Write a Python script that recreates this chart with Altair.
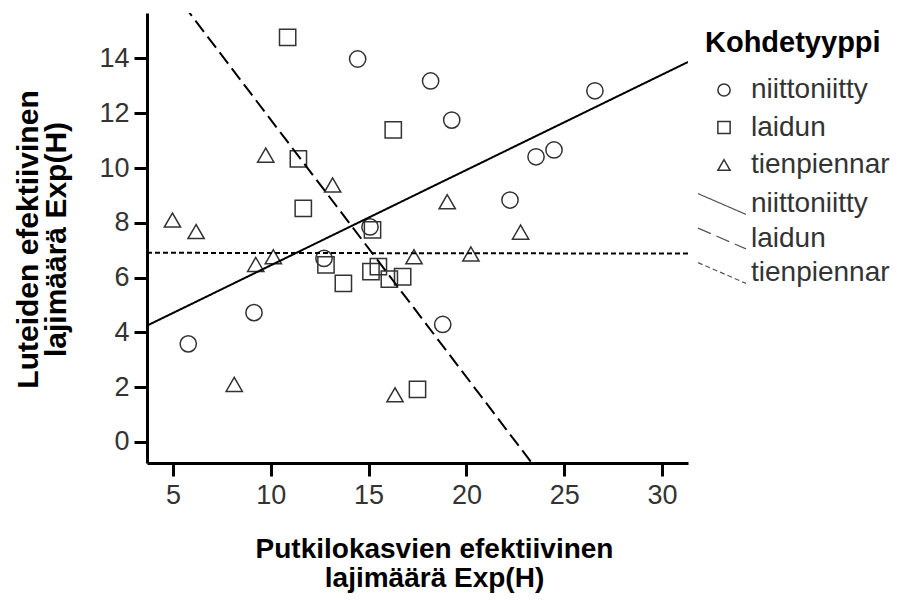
import altair as alt
import pandas as pd

# ---- data ----
types = ["niittoniitty", "laidun", "tienpiennar"]
shapes = ["circle", "square", "triangle-up"]

niitto_x = [14.44, 18.17, 19.25, 26.57, 24.48, 23.56, 22.23, 15.07, 12.72, 9.14, 5.78, 18.79]
niitto_y = [13.98, 13.18, 11.75, 12.82, 10.66, 10.41, 8.83, 7.85, 6.70, 4.72, 3.58, 4.29]

laidun_x = [10.86, 16.26, 11.41, 11.66, 15.20, 12.82, 13.71, 15.12, 15.50, 16.06, 16.74, 17.50]
laidun_y = [14.77, 11.39, 10.33, 8.53, 7.74, 6.46, 5.79, 6.22, 6.40, 5.94, 6.03, 1.92]

tien_x = [9.74, 13.16, 4.97, 6.18, 9.23, 10.13, 17.32, 20.23, 19.02, 22.77, 8.13, 16.35]
tien_y = [10.47, 9.38, 8.10, 7.68, 6.48, 6.76, 6.76, 6.86, 8.77, 7.66, 2.10, 1.72]

x_domain = [3.67, 31.33]
y_domain = [-0.77, 15.66]
x_ticks = [5, 10, 15, 20, 25, 30]
y_ticks = [0, 2, 4, 6, 8, 10, 12, 14]

x_title = ["Putkilokasvien efektiivinen", "lajimäärä Exp(H)"]
y_title = ["Luteiden efektiivinen", "lajimäärä Exp(H)"]
legend_title = "Kohdetyyppi"

rows = []
for t, xs, ys in zip(types, [niitto_x, laidun_x, tien_x], [niitto_y, laidun_y, tien_y]):
    for a, b in zip(xs, ys):
        rows.append({"Kohdetyyppi": t, "x": a, "y": b})
df = pd.DataFrame(rows)

# line-legend keys get a one-letter prefix so that the two legends stay separate
line_types = ["L" + t for t in types]

FONT = "Liberation Sans"

x_scale = alt.Scale(domain=x_domain, nice=False, zero=False)
y_scale = alt.Scale(domain=y_domain, nice=False, zero=False)

x_enc = alt.X(
    "x:Q", scale=x_scale,
    axis=alt.Axis(values=x_ticks, title=x_title, titleX=287, titleY=72,
                  titleBaseline="top", titleAlign="center", titleLineHeight=29,
                  titleFontSize=28, labelPadding=6),
)
y_enc = alt.Y(
    "y:Q", scale=y_scale,
    axis=alt.Axis(values=y_ticks, title=y_title, titleX=-134, titleY=226,
                  titleAngle=270, titleBaseline="top", titleAlign="center",
                  titleLineHeight=28, labelPadding=5),
)

points = alt.Chart(df).mark_point(
    filled=False, strokeWidth=1.5, color="#333333", opacity=1, size=265
).encode(
    x=x_enc,
    y=y_enc,
    shape=alt.Shape(
        "Kohdetyyppi:N",
        scale=alt.Scale(domain=types, range=shapes),
        legend=alt.Legend(
            title=legend_title, orient="none", legendX=558, legendY=16,
            titleFont=FONT, titleFontSize=29, titleFontWeight="bold", titleColor="black",
            titlePadding=18, labelFont=FONT, labelFontSize=28, labelColor="#333333",
            symbolSize=150, symbolStrokeWidth=1.5, symbolStrokeColor="#333333",
            symbolOffset=5, labelOffset=13, rowPadding=9.5, padding=0,
        ),
    ),
)

lines = alt.Chart(df).transform_calculate(
    typ2="'L' + datum.Kohdetyyppi"
).transform_regression(
    "x", "y", groupby=["typ2"], extent=x_domain
).mark_line(clip=True, color="black", strokeWidth=2).encode(
    x=alt.X("x:Q", scale=x_scale),
    y=alt.Y("y:Q", scale=y_scale),
    strokeDash=alt.StrokeDash(
        "typ2:N",
        scale=alt.Scale(domain=line_types, range=[[1, 0], [14, 6], [5, 3]]),
        legend=alt.Legend(
            title=None, orient="none", legendX=550, legendY=174,
            labelExpr="substring(datum.label, 1)",
            symbolType="M-1.5,-0.65L1.5,0.65", symbolSize=1024, symbolStrokeWidth=1.2,
            symbolStrokeColor="#555555", labelFont=FONT, labelFontSize=28,
            labelColor="#333333", symbolOffset=8, labelOffset=12, rowPadding=3.5,
            padding=0,
        ),
    ),
)

chart = alt.layer(points, lines).properties(
    width=541, height=450,
    autosize=alt.AutoSizeParams(type="none"),
    padding={"left": 139, "top": 5, "right": 215, "bottom": 130},
).configure_view(strokeWidth=0).configure_axis(
    grid=False, domainColor="black", domainWidth=3, tickColor="black",
    tickWidth=3, tickSize=13, labelFont=FONT, labelFontSize=27,
    labelColor="#333333", titleFont=FONT, titleFontSize=30,
    titleFontWeight="bold", titleColor="black",
)

chart.save("out.html", embed_options={"renderer": "svg", "actions": False})
